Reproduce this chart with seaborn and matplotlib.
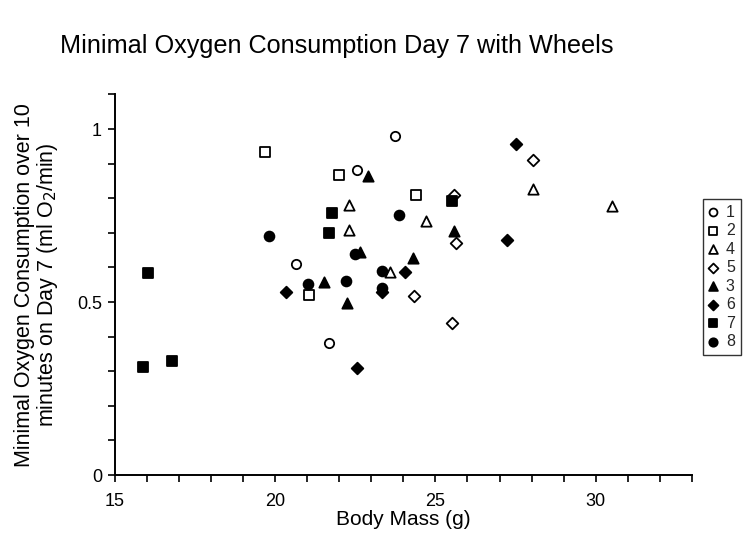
import matplotlib
matplotlib.use("Agg")
import matplotlib.pyplot as plt
from matplotlib.ticker import MultipleLocator
import seaborn as sns
import pandas as pd

sns.set_theme(style="white")
plt.rcParams["font.family"] = ["Liberation Sans", "DejaVu Sans"]

# Body mass (g) and minimal O2 consumption (ml O2/min) per group
labels = ["1", "2", "4", "5", "3", "6", "7", "8"]

mass_1 = [23.73, 22.56, 20.67, 21.67]
vo2_1 = [0.980, 0.881, 0.610, 0.382]

mass_2 = [19.69, 22.00, 24.40, 21.05]
vo2_2 = [0.933, 0.868, 0.810, 0.520]

mass_4 = [22.32, 22.32, 24.72, 23.59, 28.05, 30.52]
vo2_4 = [0.779, 0.708, 0.735, 0.588, 0.826, 0.777]

mass_5 = [25.58, 25.65, 24.33, 25.52, 28.05]
vo2_5 = [0.809, 0.670, 0.518, 0.440, 0.910]

mass_3 = [22.91, 25.59, 22.65, 24.30, 21.52, 22.24]
vo2_3 = [0.864, 0.706, 0.645, 0.626, 0.559, 0.498]

mass_6 = [27.50, 27.24, 24.04, 20.35, 23.33, 22.55]
vo2_6 = [0.958, 0.678, 0.588, 0.528, 0.530, 0.308]

mass_7 = [25.51, 21.79, 21.67, 16.04, 15.89, 16.79]
vo2_7 = [0.792, 0.758, 0.700, 0.583, 0.311, 0.330]

mass_8 = [19.81, 23.86, 22.50, 23.35, 21.04, 22.22, 23.33]
vo2_8 = [0.692, 0.751, 0.640, 0.590, 0.551, 0.562, 0.540]

groups = {
    "1": (mass_1, vo2_1),
    "2": (mass_2, vo2_2),
    "4": (mass_4, vo2_4),
    "5": (mass_5, vo2_5),
    "3": (mass_3, vo2_3),
    "6": (mass_6, vo2_6),
    "7": (mass_7, vo2_7),
    "8": (mass_8, vo2_8),
}

frames = []
for g, (m, v) in groups.items():
    frames.append(pd.DataFrame({"mass": m, "vo2": v, "group": g}))
df = pd.concat(frames, ignore_index=True)

styles = {
    "1": ("o", "white", 45),
    "2": ("s", "white", 50),
    "4": ("^", "white", 55),
    "5": ("D", "white", 35),
    "3": ("^", "black", 55),
    "6": ("D", "black", 35),
    "7": ("s", "black", 50),
    "8": ("o", "black", 50),
}

fig = plt.figure(figsize=(7.5, 5.42), dpi=100)
ax = fig.add_axes([0.1528, 0.1236, 0.7699, 0.7022])

for g in labels:
    marker, face, size = styles[g]
    sub = df[df["group"] == g]
    sns.scatterplot(data=sub, x="mass", y="vo2", ax=ax, marker=marker,
                    color=face, edgecolor="black", linewidth=1.3, s=size,
                    label=g, zorder=3)

ax.set_xlim(15, 33)
ax.set_ylim(0, 1.1)
ax.xaxis.set_major_locator(MultipleLocator(5))
ax.xaxis.set_minor_locator(MultipleLocator(1))
ax.yaxis.set_major_locator(MultipleLocator(0.5))
ax.yaxis.set_minor_locator(MultipleLocator(0.1))
ax.set_yticks([0, 0.5, 1])
ax.set_yticklabels(["0", "0.5", "1"])

for side in ["top", "right"]:
    ax.spines[side].set_visible(False)
for side in ["left", "bottom"]:
    ax.spines[side].set_color("black")
    ax.spines[side].set_linewidth(1.4)

ax.tick_params(axis="both", which="both", direction="out", color="black",
               width=1.2, length=5, labelsize=13, labelcolor="black",
               bottom=True, left=True)
ax.tick_params(axis="x", which="major", pad=8)
ax.tick_params(axis="y", which="major", pad=4)

ax.set_xlabel("Body Mass (g)", fontsize=15, color="black", labelpad=0)
ax.set_ylabel("Minimal Oxygen Consumption over 10\nminutes on Day 7 (ml O$_2$/min)",
              fontsize=15.5, color="black", labelpad=12, linespacing=1.0)

fig.text(0.08, 0.915, "Minimal Oxygen Consumption Day 7 with Wheels",
         fontsize=18.2, color="black", ha="left", va="center")

leg = ax.legend(loc="upper left", bbox_to_anchor=(0.937, 0.633),
                bbox_transform=fig.transFigure, frameon=True, fancybox=False,
                edgecolor="black", fontsize=11.5, handlelength=0.6,
                handletextpad=0.5, labelspacing=0.22, borderpad=0.35,
                borderaxespad=0.0, markerscale=0.85)
leg.get_frame().set_linewidth(1.0)

fig.savefig("out.png", dpi=100)
